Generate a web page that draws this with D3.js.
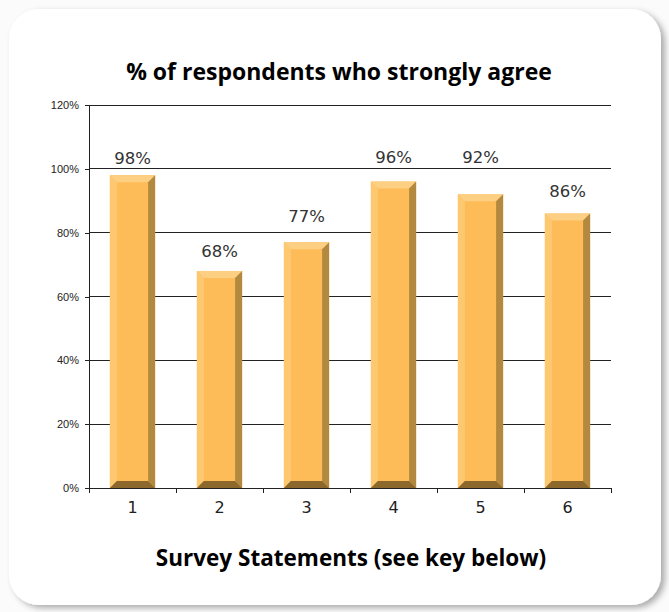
<!DOCTYPE html>
<html>
<head>
<meta charset="utf-8">
<script src="https://cdn.jsdelivr.net/npm/d3@7"></script>
<style>
  html, body { margin: 0; padding: 0; background: #fbfbfb; }
  svg { display: block; }
</style>
</head>
<body>
<svg id="chart" width="669" height="612"></svg>
<script>
// Survey results: share of respondents who strongly agree with each statement
const statements = ["1", "2", "3", "4", "5", "6"];
const strongAgree = [98, 68, 77, 96, 92, 86];
const yTicks = [0, 20, 40, 60, 80, 100, 120];
const titleText = "% of respondents who strongly agree";
const xTitleText = "Survey Statements (see key below)";

// gap (px) between each bar top and the baseline of its value label
const labelGap = [11, 14, 20, 19, 31, 17];

const svg = d3.select("#chart");

// card with soft drop shadow
const defs = svg.append("defs");
const shadow = defs.append("filter").attr("id", "cardShadow")
  .attr("x", "-5%").attr("y", "-5%").attr("width", "115%").attr("height", "115%");
shadow.append("feDropShadow")
  .attr("dx", 4).attr("dy", 3).attr("stdDeviation", 3)
  .attr("flood-color", "#000").attr("flood-opacity", 0.32);

svg.append("rect")
  .attr("x", 9).attr("y", 9).attr("width", 652).attr("height", 596)
  .attr("rx", 30).attr("ry", 30)
  .attr("fill", "#fff")
  .attr("filter", "url(#cardShadow)");

const plot = { left: 89, right: 611, top: 105, bottom: 488 };

const x = d3.scaleBand()
  .domain(statements)
  .range([plot.left, plot.right])
  .paddingInner(0.48)
  .paddingOuter(0.24);

const y = d3.scaleLinear()
  .domain([0, 120])
  .range([plot.bottom, plot.top]);

// horizontal gridlines
svg.append("g")
  .selectAll("line")
  .data(yTicks.filter(d => d > 0))
  .join("line")
  .attr("x1", plot.left).attr("x2", plot.right)
  .attr("y1", d => y(d)).attr("y2", d => y(d))
  .attr("stroke", "#222").attr("stroke-width", 1)
  .attr("shape-rendering", "crispEdges");

// y axis
const yAxis = svg.append("g")
  .attr("transform", `translate(${plot.left},0)`)
  .call(d3.axisLeft(y).tickValues(yTicks).tickFormat(d => d + "%").tickSize(4).tickPadding(6));
yAxis.select(".domain").attr("stroke", "#222").attr("shape-rendering", "crispEdges");
yAxis.selectAll(".tick line").attr("stroke", "#222").attr("shape-rendering", "crispEdges");
yAxis.selectAll("text")
  .attr("font-family", "'Liberation Sans', Arial, sans-serif")
  .attr("font-size", 11)
  .attr("fill", "#222");

// bars drawn with a bevelled look
const b = 7;
const colors = {
  face: "#fdbc57",
  top: "#fdcf82",
  left: "#fec871",
  right: "#b3883f",
  bottom: "#8c682c"
};
const bars = svg.append("g")
  .selectAll("g")
  .data(statements.map((s, i) => ({ s, v: strongAgree[i], gap: labelGap[i] })))
  .join("g");

function facet(sel, name, pts) {
  sel.append("polygon")
    .attr("points", d => pts(d).map(p => p.join(",")).join(" "))
    .attr("fill", colors[name]);
}
const geo = d => {
  const x0 = x(d.s), x1 = x(d.s) + x.bandwidth(), y0 = y(d.v), yb = y(0);
  return { x0, x1, y0, yb };
};
bars.append("rect")
  .attr("x", d => geo(d).x0)
  .attr("y", d => geo(d).y0)
  .attr("width", x.bandwidth())
  .attr("height", d => geo(d).yb - geo(d).y0)
  .attr("fill", colors.face);
facet(bars, "top", d => { const g = geo(d); return [[g.x0, g.y0], [g.x1, g.y0], [g.x1 - b, g.y0 + b], [g.x0 + b, g.y0 + b]]; });
facet(bars, "left", d => { const g = geo(d); return [[g.x0, g.y0], [g.x0 + b, g.y0 + b], [g.x0 + b, g.yb - b], [g.x0, g.yb]]; });
facet(bars, "right", d => { const g = geo(d); return [[g.x1, g.y0], [g.x1, g.yb], [g.x1 - b, g.yb - b], [g.x1 - b, g.y0 + b]]; });
facet(bars, "bottom", d => { const g = geo(d); return [[g.x0, g.yb], [g.x1, g.yb], [g.x1 - b, g.yb - b], [g.x0 + b, g.yb - b]]; });

// value labels
bars.append("text")
  .attr("x", d => x(d.s) + x.bandwidth() / 2)
  .attr("y", d => y(d.v) - d.gap)
  .attr("text-anchor", "middle")
  .attr("font-family", "'DejaVu Sans', sans-serif")
  .attr("font-size", 16.5)
  .attr("fill", "#333")
  .text(d => d.v + "%");

// x axis with ticks at category boundaries
const xAxisG = svg.append("g");
xAxisG.append("line")
  .attr("x1", plot.left).attr("x2", plot.right)
  .attr("y1", plot.bottom).attr("y2", plot.bottom)
  .attr("stroke", "#222").attr("shape-rendering", "crispEdges");
const step = x.step();
const boundaries = d3.range(statements.length + 1).map(i => plot.left + i * step);
xAxisG.selectAll("line.tk")
  .data(boundaries)
  .join("line").attr("class", "tk")
  .attr("x1", d => d).attr("x2", d => d)
  .attr("y1", plot.bottom).attr("y2", plot.bottom + 5)
  .attr("stroke", "#222").attr("shape-rendering", "crispEdges");
xAxisG.selectAll("text")
  .data(statements)
  .join("text")
  .attr("x", d => x(d) + x.bandwidth() / 2)
  .attr("y", 513)
  .attr("text-anchor", "middle")
  .attr("font-family", "'DejaVu Sans', sans-serif")
  .attr("font-size", 16)
  .attr("fill", "#222")
  .text(d => d);

// titles
svg.append("text")
  .attr("x", 339).attr("y", 80)
  .attr("text-anchor", "middle")
  .attr("font-family", "'Open Sans', sans-serif")
  .attr("font-weight", 700)
  .attr("font-size", 23)
  .attr("fill", "#000")
  .text(titleText);

svg.append("text")
  .attr("x", 351).attr("y", 566)
  .attr("text-anchor", "middle")
  .attr("font-family", "'Open Sans', sans-serif")
  .attr("font-weight", 700)
  .attr("font-size", 22.5)
  .attr("fill", "#000")
  .text(xTitleText);
</script>
</body>
</html>
